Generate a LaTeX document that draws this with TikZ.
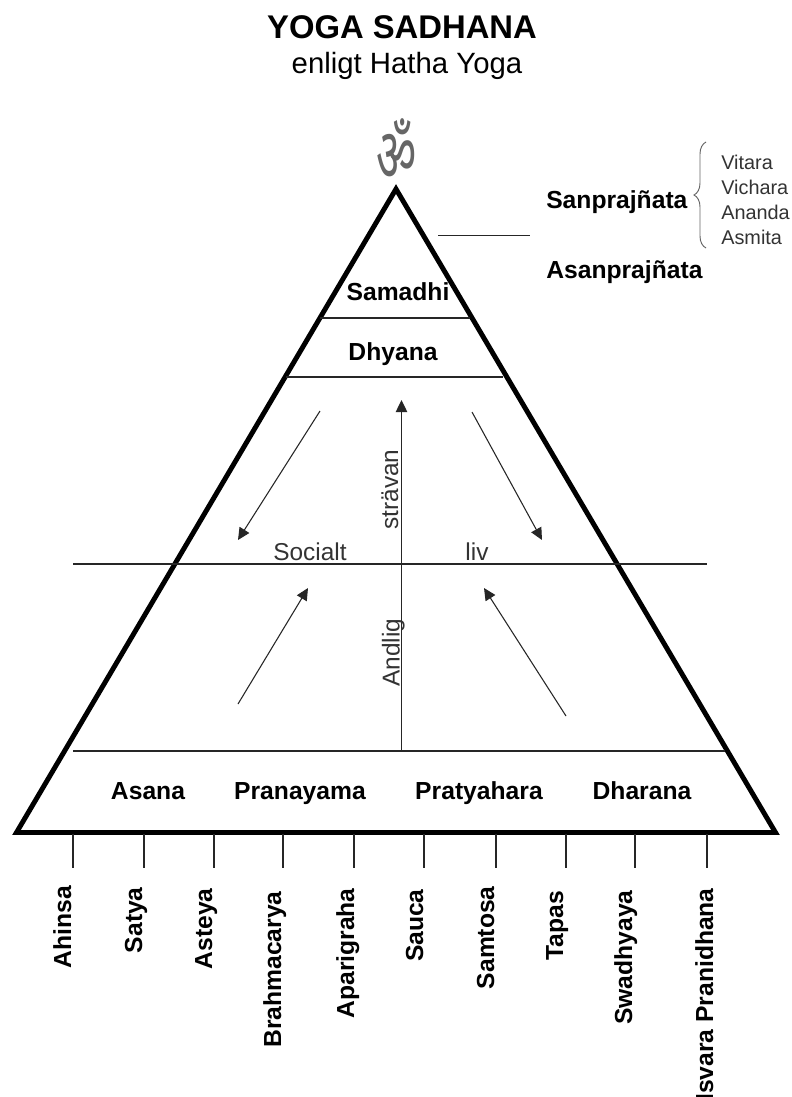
\documentclass[tikz,border=0pt]{standalone}
\usepackage{fontspec}
\setmainfont{Liberation Sans}
\newfontfamily\devfont[Script=Devanagari]{Noto Sans}
\usetikzlibrary{arrows.meta,decorations.pathreplacing}
\tikzset{
  x=0.75pt,y=-0.75pt,
  heavy/.style={line width=3.7pt,line join=miter,miter limit=10},
  mid/.style={line width=1.5pt,black!85},
  thin line/.style={line width=0.85pt,black!85},
  arrowline/.style={line width=0.8pt,black!85,-{Triangle[length=9pt,width=8.5pt]}},
  bigb/.style={font=\bfseries\fontsize{18.5}{20}\selectfont,inner sep=0pt,anchor=base},
  small/.style={font=\fontsize{14.9}{16}\selectfont,inner sep=0pt,text=black!80,anchor=base west},
  light/.style={font=\fontsize{18.3}{20}\selectfont,inner sep=0pt,text=black!80,anchor=base},
  vert/.style={font=\bfseries\fontsize{18.5}{20}\selectfont,inner sep=0pt,rotate=90,anchor=base east},
}
\begin{document}
\begin{tikzpicture}
\clip (0,0) rectangle (792,1097);
\useasboundingbox (0,0) rectangle (792,1097);
\fill[white] (0,0) rectangle (792,1097);
\node[font=\bfseries\fontsize{24.6}{26}\selectfont,inner sep=0pt,anchor=base] (title) at (402,38.5) {YOGA SADHANA};
\node[font=\fontsize{22}{24}\selectfont,inner sep=0pt,anchor=base] (sub) at (407,73) {enligt Hatha Yoga};
\node[font=\devfont\fontsize{50}{50}\selectfont,inner sep=0pt,text=black!60,xscale=.66,yscale=1.12] (om) at (397,150) {ॐ};
% pyramid
\coordinate (apex) at (396,189);
\coordinate (bl) at (16.5,832.5);
\coordinate (br) at (775.5,832.5);
\draw[heavy] (apex) -- (bl) -- (br) -- cycle;
\coordinate (s1) at (320,318); \coordinate (s2) at (470,318);
\coordinate (d1) at (286,377); \coordinate (d2) at (503,377);
\draw[mid] (s1) -- (s2);
\draw[mid] (d1) -- (d2);
\coordinate (l1) at (73,564); \coordinate (l2) at (707,564);
\coordinate (b1) at (73,751); \coordinate (b2) at (725,751);
\draw[thin line] (l1) -- (l2);
\draw[thin line] (b1) -- (b2);
\coordinate (vb) at (401.5,751); \coordinate (vt) at (401.5,400);
\draw[arrowline,line width=1pt] (vb) -- (vt);
\coordinate (a1s) at (320,411); \coordinate (a1e) at (238,540);
\coordinate (a2s) at (472,412); \coordinate (a2e) at (542,540);
\coordinate (a3s) at (238,704); \coordinate (a3e) at (308,588);
\coordinate (a4s) at (566,716); \coordinate (a4e) at (484,588);
\draw[arrowline] (a1s) -- (a1e);
\draw[arrowline] (a2s) -- (a2e);
\draw[arrowline] (a3s) -- (a3e);
\draw[arrowline] (a4s) -- (a4e);
\coordinate (c1) at (438,235.5); \coordinate (c2) at (530,235.5);
\draw[thin line] (c1) -- (c2);
% labels in pyramid
\node[bigb] (samadhi) at (398,300) {Samadhi};
\node[bigb] (dhyana) at (393,360) {Dhyana};
\node[bigb] (asana) at (148,799) {Asana};
\node[bigb] (pranayama) at (300,799) {Pranayama};
\node[bigb] (pratyahara) at (479,799) {Pratyahara};
\node[bigb] (dharana) at (642,799) {Dharana};
\node[light] (socialt) at (310,560) {Socialt};
\node[light] (liv) at (477,560) {liv};
\node[light,rotate=90,anchor=base] (stravan) at (398,489.5) {strävan};
\node[light,rotate=90,anchor=base] (andlig) at (399.5,652.5) {Andlig};
% right side
\node[bigb,anchor=base west] (sanp) at (546,208) {Sanprajñata};
\node[bigb,anchor=base west] (asanp) at (546,278) {Asanprajñata};
\draw[line width=0.7pt,black!60,decorate,decoration={brace,amplitude=9pt,mirror,aspect=0.5}] (706,142) -- (706,248);
\node[small] (vitara) at (721,169) {Vitara};
\node[small] (vichara) at (721,194) {Vichara};
\node[small] (ananda) at (721,219) {Ananda};
\node[small] (asmita) at (721,244) {Asmita};
% bottom ticks
\foreach \n/\x in {t1/73,t2/144,t3/214,t4/283,t5/354,t6/424,t7/496,t8/566,t9/635,t10/707}{
  \coordinate (\n a) at (\x,834);
  \coordinate (\n b) at (\x,868);
  \draw[thin line] (\n a) -- (\n b);
}
\node[vert] (ahinsa) at (71,886) {Ahinsa};
\node[vert] (satya) at (142,887) {Satya};
\node[vert] (asteya) at (212,888) {Asteya};
\node[vert] (brahma) at (281,891) {Brahmacarya};
\node[vert] (apari) at (354,888) {Aparigraha};
\node[vert] (sauca) at (423,889) {Sauca};
\node[vert] (samtosa) at (494,886) {Samtosa};
\node[vert] (tapas) at (563,891) {Tapas};
\node[vert] (swadh) at (632,890) {Swadhyaya};
\node[vert] (isvara) at (713,888) {Isvara Pranidhana};
\end{tikzpicture}
\end{document}
